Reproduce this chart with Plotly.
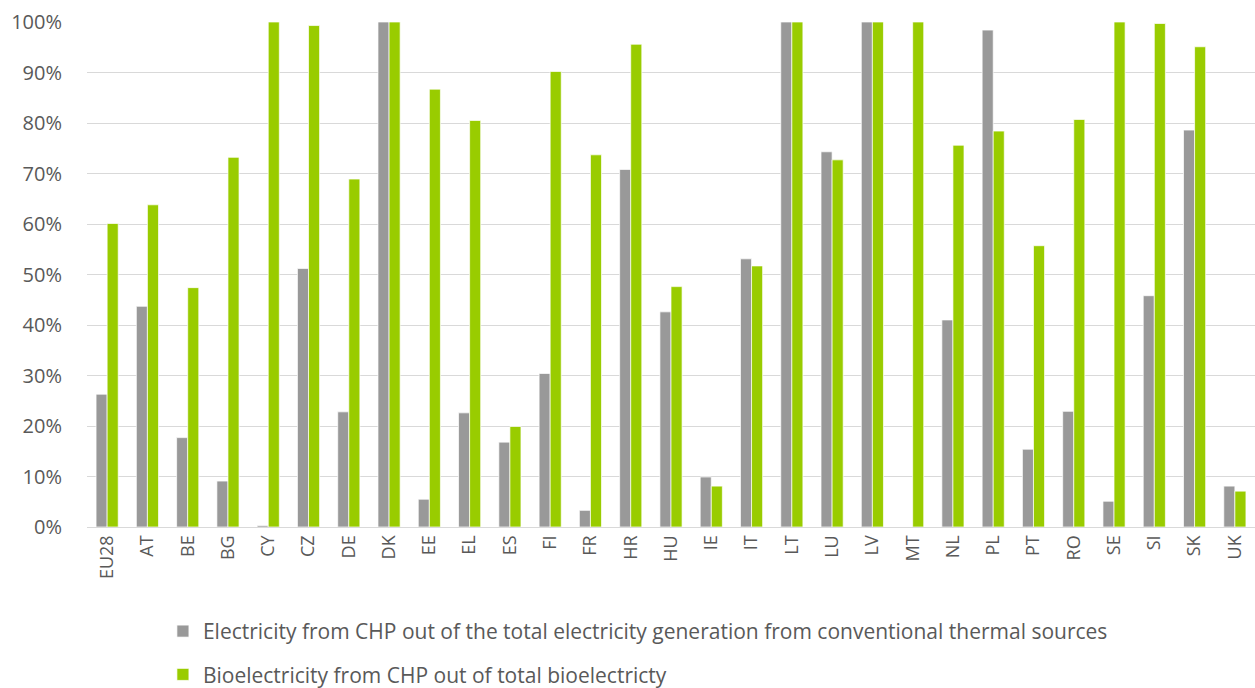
import plotly.graph_objects as go

countries = ["EU28", "AT", "BE", "BG", "CY", "CZ", "DE", "DK", "EE", "EL", "ES", "FI", "FR", "HR",
             "HU", "IE", "IT", "LT", "LU", "LV", "MT", "NL", "PL", "PT", "RO", "SE", "SI", "SK", "UK"]

chp_conventional = [26.3, 43.7, 17.7, 9.1, 0.3, 51.2, 22.8, 100.0, 5.5, 22.6, 16.8, 30.4, 3.3, 70.8,
                    42.6, 9.9, 53.1, 100.0, 74.3, 100.0, 0.0, 41.0, 98.4, 15.4, 22.9, 5.1, 45.8, 78.6, 8.1]

chp_bio = [60.1, 63.8, 47.4, 73.2, 100.0, 99.3, 68.9, 100.0, 86.7, 80.5, 19.9, 90.2, 73.7, 95.6,
           47.6, 8.1, 51.7, 100.0, 72.7, 100.0, 100.0, 75.6, 78.4, 55.7, 80.7, 100.0, 99.7, 95.1, 7.1]

series_names = [
    "Electricity from CHP out of the total electricity generation from conventional thermal sources",
    "Bioelectricity from CHP out of total bioelectricty",
]

FONT = "'Open Sans', sans-serif"

fig = go.Figure()
fig.add_trace(go.Bar(
    x=countries, y=[v / 100 for v in chp_conventional], name=series_names[0],
    marker=dict(color="#999999", line=dict(color="white", width=0.7)),
    legendgroup="a",
))
fig.add_trace(go.Bar(
    x=countries, y=[v / 100 for v in chp_bio], name=series_names[1],
    marker=dict(color="#99CC00", line=dict(color="white", width=0.7)),
    legendgroup="b",
))

fig.update_layout(
    width=1255, height=688,
    margin=dict(l=87, r=0, t=22, b=161),
    paper_bgcolor="white", plot_bgcolor="white",
    barmode="group", bargap=0.45, bargroupgap=0,
    font=dict(family=FONT, color="#595959", size=17),
    showlegend=True,
    legend=dict(
        orientation="v", x=0.065, xanchor="left",
        yref="container", y=0.112, yanchor="top",
        font=dict(size=21, color="#595959"), tracegroupgap=13,
        bgcolor="rgba(0,0,0,0)",
    ),
    yaxis=dict(
        range=[0, 1], tickformat=".0%", dtick=0.1,
        showgrid=True, gridcolor="#D9D9D9", gridwidth=1.3,
        zeroline=False, showline=False, ticks="",
        tickfont=dict(size=20, color="#595959"), ticklabelstandoff=24,
    ),
    xaxis=dict(
        showline=True, linecolor="#D9D9D9", linewidth=1.3,
        ticks="", tickangle=-90, tickfont=dict(size=18, color="#595959"),
    ),
)

fig.write_html("out.html")
